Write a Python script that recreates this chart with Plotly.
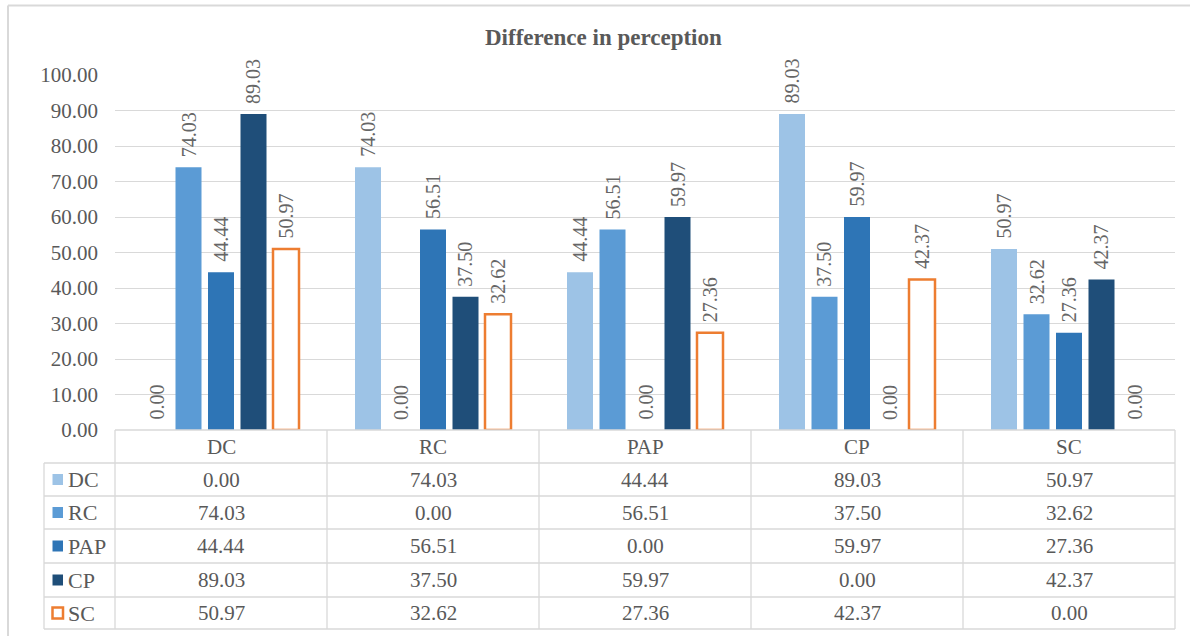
import plotly.graph_objects as go

# Pairwise difference in perception between the five groups
categories = ["DC", "RC", "PAP", "CP", "SC"]
series_names = ["DC", "RC", "PAP", "CP", "SC"]
dc_values = [0.00, 74.03, 44.44, 89.03, 50.97]
rc_values = [74.03, 0.00, 56.51, 37.50, 32.62]
pap_values = [44.44, 56.51, 0.00, 59.97, 27.36]
cp_values = [89.03, 37.50, 59.97, 0.00, 42.37]
sc_values = [50.97, 32.62, 27.36, 42.37, 0.00]
y_ticks = [0, 10, 20, 30, 40, 50, 60, 70, 80, 90, 100]

series_values = [dc_values, rc_values, pap_values, cp_values, sc_values]
fills = ["#9DC3E6", "#5B9BD5", "#2E75B6", "#1F4E79", "#FFFFFF"]
edges = ["#9DC3E6", "#5B9BD5", "#2E75B6", "#1F4E79", "#ED7D31"]
edge_widths = [0, 0, 0, 0, 2.5]

W, H = 1190, 636
FONT = "Liberation Serif"
GREY = "#595959"
LINE = "#D9D9D9"

# plot-area geometry in pixels
PX_LEFT, PX_RIGHT = 115, 1175
PX_TOP, PX_BOTTOM = 75, 430
TABLE_LEFT = 44
ROW_EDGES = [430, 463, 496, 529, 563, 597, 629]


def fx(px):
    return px / W


def fy(py):
    return 1 - py / H


n = len(categories)
cat_w = (PX_RIGHT - PX_LEFT) / n
step = 32.5 / cat_w          # slot per series, in category units
bar_w = 26 / cat_w           # bar width, in category units

fig = go.Figure()
annotations = []
shapes = []

for j, (name, vals) in enumerate(zip(series_names, series_values)):
    center_off = (j - (len(series_names) - 1) / 2) * step
    # zero-height bars get no outline
    line_w = [edge_widths[j] if v > 0 else 0 for v in vals]
    fig.add_trace(go.Bar(
        x=list(range(n)),
        y=vals,
        name=name,
        width=bar_w,
        offset=center_off - bar_w / 2,
        marker=dict(color=fills[j], line=dict(color=edges[j], width=line_w)),
        showlegend=False,
        hoverinfo="y",
    ))
    for i, v in enumerate(vals):
        annotations.append(dict(
            x=i + center_off, y=v, xref="x", yref="y",
            text=f"{v:.2f}", textangle=-90, showarrow=False,
            xanchor="center", yanchor="bottom", yshift=8,
            font=dict(family=FONT, size=20, color="#666666"),
        ))

# data table: grid lines
for k, ry in enumerate(ROW_EDGES):
    x0 = PX_LEFT if k == 0 else TABLE_LEFT
    shapes.append(dict(type="line", xref="paper", yref="paper",
                       x0=fx(x0), x1=fx(PX_RIGHT), y0=fy(ry), y1=fy(ry),
                       line=dict(color=LINE, width=1.3)))
for c in range(n + 1):
    cx = PX_LEFT + c * cat_w
    shapes.append(dict(type="line", xref="paper", yref="paper",
                       x0=fx(cx), x1=fx(cx), y0=fy(ROW_EDGES[0]), y1=fy(ROW_EDGES[-1]),
                       line=dict(color=LINE, width=1.3)))
shapes.append(dict(type="line", xref="paper", yref="paper",
                   x0=fx(TABLE_LEFT), x1=fx(TABLE_LEFT), y0=fy(ROW_EDGES[1]), y1=fy(ROW_EDGES[-1]),
                   line=dict(color=LINE, width=1.3)))

# header row: category names
for c, cat in enumerate(categories):
    annotations.append(dict(
        x=fx(PX_LEFT + (c + 0.5) * cat_w), y=fy((ROW_EDGES[0] + ROW_EDGES[1]) / 2),
        xref="paper", yref="paper", text=cat, showarrow=False,
        xanchor="center", yanchor="middle",
        font=dict(family=FONT, size=21, color=GREY),
    ))

# value rows with legend keys
for r, (name, vals) in enumerate(zip(series_names, series_values)):
    ymid = (ROW_EDGES[r + 1] + ROW_EDGES[r + 2]) / 2
    shapes.append(dict(type="rect", xref="paper", yref="paper",
                       x0=fx(52.5), x1=fx(63), y0=fy(ymid + 5.5), y1=fy(ymid - 5.5),
                       fillcolor=fills[r], line=dict(color=edges[r], width=2.5 if r == 4 else 0)))
    annotations.append(dict(
        x=fx(66), y=fy(ymid), xref="paper", yref="paper", text=name, showarrow=False,
        xanchor="left", yanchor="middle",
        font=dict(family=FONT, size=22, color=GREY),
    ))
    for c, v in enumerate(vals):
        annotations.append(dict(
            x=fx(PX_LEFT + (c + 0.5) * cat_w), y=fy(ymid),
            xref="paper", yref="paper", text=f"{v:.2f}", showarrow=False,
            xanchor="center", yanchor="middle",
            font=dict(family=FONT, size=21, color=GREY),
        ))

# chart frame
shapes.append(dict(type="line", xref="paper", yref="paper",
                   x0=fx(8), x1=fx(1190), y0=fy(5.5), y1=fy(5.5),
                   line=dict(color=LINE, width=2)))
shapes.append(dict(type="line", xref="paper", yref="paper",
                   x0=fx(8), x1=fx(8), y0=fy(5.5), y1=0,
                   line=dict(color=LINE, width=2)))

# title
annotations.append(dict(
    x=fx(603), y=fy(37), xref="paper", yref="paper",
    text="<b>Difference in perception</b>", showarrow=False,
    xanchor="center", yanchor="middle",
    font=dict(family=FONT, size=23, color=GREY),
))

fig.update_layout(
    template="none",
    width=W, height=H,
    margin=dict(l=0, r=0, t=0, b=0, pad=0, autoexpand=False),
    paper_bgcolor="white", plot_bgcolor="white",
    barmode="overlay",
    annotations=annotations,
    shapes=shapes,
    xaxis=dict(domain=[fx(PX_LEFT), fx(PX_RIGHT)], range=[-0.5, n - 0.5],
               showticklabels=False, showgrid=False, zeroline=False, showline=False,
               automargin=False, fixedrange=True),
    yaxis=dict(domain=[fy(PX_BOTTOM), fy(PX_TOP)], range=[0, 100],
               tickvals=y_ticks, tickformat=".2f",
               showgrid=True, gridcolor=LINE, gridwidth=1.3,
               zeroline=False, showline=False, ticks="",
               ticklabelstandoff=16, automargin=False,
               tickfont=dict(family=FONT, size=21, color=GREY),
               fixedrange=True),
)

fig.write_html("out.html")
